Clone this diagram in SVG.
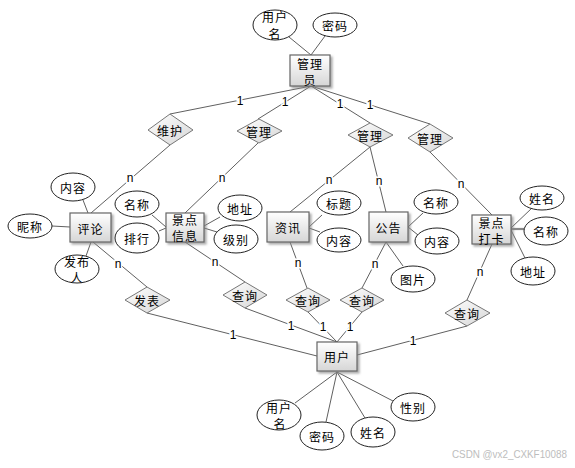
<svg xmlns="http://www.w3.org/2000/svg" width="575" height="468" viewBox="0 0 575 468">
<defs>
<linearGradient id="gb" x1="0" y1="0" x2="0" y2="1"><stop offset="0" stop-color="#ffffff"/><stop offset="1" stop-color="#d6d6d6"/></linearGradient>
<linearGradient id="gd" x1="0" y1="0" x2="1" y2="1"><stop offset="0" stop-color="#ffffff"/><stop offset="1" stop-color="#d6d6d6"/></linearGradient>
<filter id="sh" x="-20%" y="-20%" width="150%" height="150%"><feDropShadow dx="2" dy="2" stdDeviation="0.8" flood-color="#888" flood-opacity="0.7"/></filter>
</defs>
<style>
.ln{stroke:#606060;stroke-width:1;fill:none}
.box{fill:url(#gb);stroke:#666;stroke-width:1.2;filter:url(#sh)}
.dia{fill:url(#gd);stroke:#777;stroke-width:1}
.ell{fill:#fff;stroke:#222;stroke-width:1}
.t{font-family:"Noto Sans CJK SC","Liberation Sans",sans-serif;font-size:12px;fill:#000;text-anchor:middle;dominant-baseline:central;letter-spacing:1px}
.c{font-family:"Liberation Sans",sans-serif;font-size:12px;fill:#000;text-anchor:middle;dominant-baseline:central;stroke:#fff;stroke-width:3px;paint-order:stroke}
.wm{font-family:"Liberation Sans",sans-serif;font-size:10.5px;fill:#bdbdbd}
</style>
<rect width="575" height="468" fill="#fff"/>
<g id="connectors">
<line class="ln" x1="289" y1="37" x2="311" y2="55"/>
<line class="ln" x1="325" y1="36" x2="311" y2="55"/>
<line class="ln" x1="311" y1="86" x2="170" y2="114"/>
<line class="ln" x1="311" y1="86" x2="258" y2="119"/>
<line class="ln" x1="311" y1="86" x2="370" y2="123"/>
<line class="ln" x1="311" y1="86" x2="430" y2="124"/>
<line class="ln" x1="170" y1="145" x2="91" y2="213"/>
<line class="ln" x1="258" y1="143" x2="185" y2="213"/>
<line class="ln" x1="370" y1="147" x2="290" y2="212"/>
<line class="ln" x1="370" y1="147" x2="386" y2="212"/>
<line class="ln" x1="430" y1="152" x2="492" y2="215"/>
<line class="ln" x1="83" y1="200" x2="88" y2="213"/>
<line class="ln" x1="52" y1="226" x2="70" y2="227"/>
<line class="ln" x1="91" y1="242" x2="86" y2="256"/>
<line class="ln" x1="93" y1="242" x2="147" y2="287"/>
<line class="ln" x1="152" y1="215" x2="166" y2="227"/>
<line class="ln" x1="159" y1="231" x2="166" y2="228"/>
<line class="ln" x1="220" y1="217" x2="204" y2="226"/>
<line class="ln" x1="217" y1="232" x2="204" y2="228"/>
<line class="ln" x1="185" y1="242" x2="245" y2="282"/>
<line class="ln" x1="309" y1="227" x2="322" y2="215"/>
<line class="ln" x1="309" y1="228" x2="320" y2="232"/>
<line class="ln" x1="290" y1="242" x2="307" y2="288"/>
<line class="ln" x1="408" y1="227" x2="423" y2="213"/>
<line class="ln" x1="408" y1="227" x2="418" y2="235"/>
<line class="ln" x1="386" y1="242" x2="403" y2="266"/>
<line class="ln" x1="386" y1="242" x2="362" y2="288"/>
<line class="ln" x1="511" y1="228" x2="532" y2="208"/>
<line class="ln" x1="511" y1="229" x2="524" y2="229" style="stroke-width:2.2;stroke:#888"/>
<line class="ln" x1="511" y1="230" x2="525" y2="258"/>
<line class="ln" x1="492" y1="244" x2="467" y2="300"/>
<line class="ln" x1="147" y1="313" x2="317" y2="356"/>
<line class="ln" x1="245" y1="308" x2="337" y2="342"/>
<line class="ln" x1="308" y1="312" x2="337" y2="342"/>
<line class="ln" x1="362" y1="312" x2="337" y2="342"/>
<line class="ln" x1="467" y1="326" x2="357" y2="355"/>
<line class="ln" x1="337" y1="372" x2="295" y2="403"/>
<line class="ln" x1="337" y1="372" x2="326" y2="422"/>
<line class="ln" x1="337" y1="372" x2="365" y2="418"/>
<line class="ln" x1="337" y1="372" x2="393" y2="401"/>
<text class="c" x="240" y="101">1</text>
<text class="c" x="285" y="102">1</text>
<text class="c" x="340" y="104">1</text>
<text class="c" x="370" y="105">1</text>
<text class="c" x="130" y="178">n</text>
<text class="c" x="222" y="178">n</text>
<text class="c" x="329" y="180">n</text>
<text class="c" x="379" y="181">n</text>
<text class="c" x="461" y="184">n</text>
<text class="c" x="118" y="264">n</text>
<text class="c" x="215" y="262">n</text>
<text class="c" x="298" y="263">n</text>
<text class="c" x="375" y="264">n</text>
<text class="c" x="480" y="272">n</text>
<text class="c" x="233" y="335">1</text>
<text class="c" x="291" y="326">1</text>
<text class="c" x="323" y="327">1</text>
<text class="c" x="350" y="327">1</text>
<text class="c" x="413" y="341">1</text>
</g>
<g id="admin"><rect class="box" x="290" y="55" width="40" height="31"/><text class="t" x="310" y="63.5">管理</text><text class="t" x="310" y="79.5">员</text></g>
<g id="admin-username"><ellipse class="ell" cx="275" cy="25" rx="22" ry="15"/><text class="t" x="275" y="16.5">用户</text><text class="t" x="275" y="33">名</text></g>
<g id="admin-password"><ellipse class="ell" cx="335" cy="25" rx="22" ry="12"/><text class="t" x="335" y="25">密码</text></g>
<g id="rel-maintain"><polygon class="dia" points="148,130 170,114 193,130 170,145"/><text class="t" x="170" y="130">维护</text></g>
<g id="rel-manage1"><polygon class="dia" points="237,131 259,119 282,131 259,143"/><text class="t" x="259" y="131">管理</text></g>
<g id="rel-manage2"><polygon class="dia" points="348,135 370,123 393,135 370,147"/><text class="t" x="370" y="135">管理</text></g>
<g id="rel-manage3"><polygon class="dia" points="408,138 430,124 453,138 430,152"/><text class="t" x="430" y="138">管理</text></g>
<g id="comment"><rect class="box" x="70" y="213" width="41" height="29"/><text class="t" x="90.5" y="228">评论</text></g>
<g id="comment-content"><ellipse class="ell" cx="73" cy="187" rx="22" ry="14"/><text class="t" x="73" y="187">内容</text></g>
<g id="comment-nick"><ellipse class="ell" cx="30" cy="226" rx="22" ry="12"/><text class="t" x="30" y="226">昵称</text></g>
<g id="comment-author"><ellipse class="ell" cx="77" cy="269" rx="22" ry="14"/><text class="t" x="77" y="261">发布</text><text class="t" x="77" y="277">人</text></g>
<g id="spot"><rect class="box" x="166" y="213" width="38" height="29"/><text class="t" x="185" y="219.5">景点</text><text class="t" x="185" y="235">信息</text></g>
<g id="spot-name"><ellipse class="ell" cx="137" cy="204" rx="22" ry="13"/><text class="t" x="137" y="204">名称</text></g>
<g id="spot-rank"><ellipse class="ell" cx="137" cy="238" rx="22" ry="15"/><text class="t" x="137" y="238">排行</text></g>
<g id="spot-addr"><ellipse class="ell" cx="240" cy="208" rx="22" ry="13"/><text class="t" x="240" y="208">地址</text></g>
<g id="spot-level"><ellipse class="ell" cx="236" cy="239" rx="22" ry="14"/><text class="t" x="236" y="239">级别</text></g>
<g id="news"><rect class="box" x="267" y="212" width="42" height="30"/><text class="t" x="288" y="227">资讯</text></g>
<g id="news-title"><ellipse class="ell" cx="339" cy="203" rx="22" ry="12"/><text class="t" x="339" y="203">标题</text></g>
<g id="news-content"><ellipse class="ell" cx="339" cy="240" rx="22" ry="12"/><text class="t" x="339" y="240">内容</text></g>
<g id="notice"><rect class="box" x="369" y="212" width="39" height="30"/><text class="t" x="388.5" y="227">公告</text></g>
<g id="notice-name"><ellipse class="ell" cx="436" cy="202" rx="22" ry="12"/><text class="t" x="436" y="202">名称</text></g>
<g id="notice-content"><ellipse class="ell" cx="437" cy="241" rx="22" ry="13"/><text class="t" x="437" y="241">内容</text></g>
<g id="notice-pic"><ellipse class="ell" cx="413" cy="279" rx="22" ry="13"/><text class="t" x="413" y="279">图片</text></g>
<g id="checkin"><rect class="box" x="472" y="215" width="39" height="29"/><text class="t" x="491.5" y="222">景点</text><text class="t" x="491.5" y="238">打卡</text></g>
<g id="checkin-person"><ellipse class="ell" cx="542" cy="198" rx="22" ry="12"/><text class="t" x="542" y="198">姓名</text></g>
<g id="checkin-name"><ellipse class="ell" cx="546" cy="231" rx="22" ry="14"/><text class="t" x="546" y="231">名称</text></g>
<g id="checkin-addr"><ellipse class="ell" cx="533" cy="271" rx="22" ry="14"/><text class="t" x="533" y="271">地址</text></g>
<g id="rel-publish"><polygon class="dia" points="125,300 147,287 170,300 147,313"/><text class="t" x="147" y="300">发表</text></g>
<g id="rel-query1"><polygon class="dia" points="223,295 245,282 267,295 245,308"/><text class="t" x="245" y="295">查询</text></g>
<g id="rel-query2"><polygon class="dia" points="286,300 308,288 330,300 308,312"/><text class="t" x="308" y="300">查询</text></g>
<g id="rel-query3"><polygon class="dia" points="340,300 362,288 384,300 362,312"/><text class="t" x="362" y="300">查询</text></g>
<g id="rel-query4"><polygon class="dia" points="445,313 467,300 490,313 467,326"/><text class="t" x="467" y="313">查询</text></g>
<g id="user"><rect class="box" x="317" y="342" width="40" height="29"/><text class="t" x="337" y="356.5">用户</text></g>
<g id="user-username"><ellipse class="ell" cx="279" cy="415" rx="22" ry="15"/><text class="t" x="279" y="407">用户</text><text class="t" x="280" y="423">名</text></g>
<g id="user-password"><ellipse class="ell" cx="322" cy="436" rx="22" ry="14"/><text class="t" x="322" y="436">密码</text></g>
<g id="user-name"><ellipse class="ell" cx="373" cy="432" rx="22" ry="15"/><text class="t" x="373" y="432">姓名</text></g>
<g id="user-gender"><ellipse class="ell" cx="413" cy="407" rx="22" ry="14"/><text class="t" x="413" y="407">性别</text></g>
<text class="wm" x="452" y="458" textLength="115" lengthAdjust="spacingAndGlyphs">CSDN @vx2_CXKF10088</text>
</svg>
